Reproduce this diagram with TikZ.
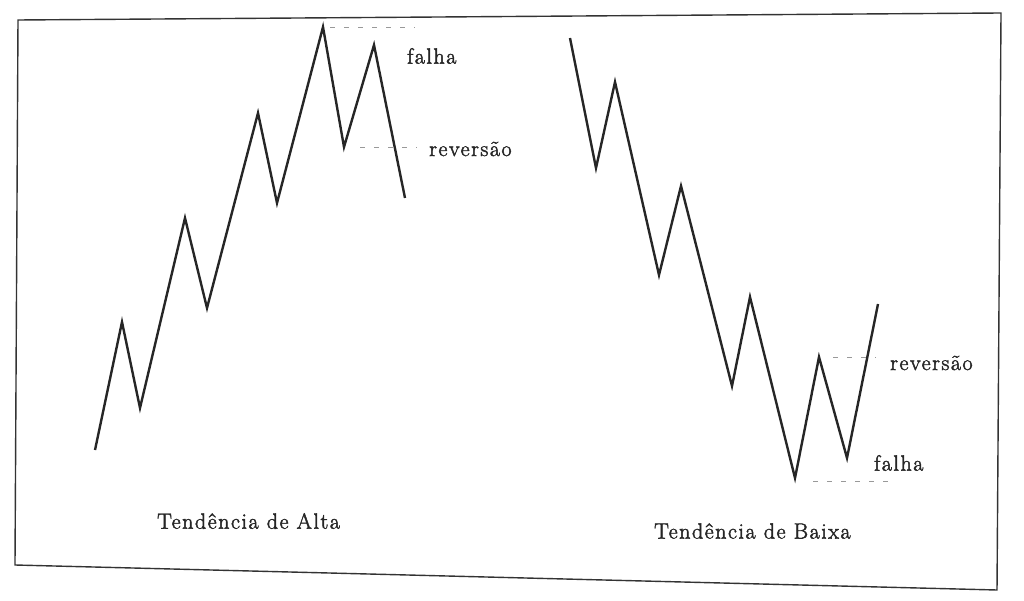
\documentclass[tikz,border=0pt]{standalone}
\usepackage{fontspec}
\setmainfont{Latin Modern Roman}
\newfontfamily\lblfont[FakeBold=2,LetterSpace=7]{Latin Modern Roman}
\begin{document}
\begin{tikzpicture}[x=1pt,y=-1pt,
  trend/.style={line width=2.4pt,draw=black!85,line join=miter},
  guide/.style={line width=0.8pt,draw=black!40,dash pattern=on 5pt off 9pt},
  frameline/.style={line width=1.4pt,draw=black!80},
  lbl/.style={font=\lblfont\fontsize{22}{25}\selectfont,text=black!85,inner sep=0pt}]
\useasboundingbox (0,0) rectangle (1024,601);
% frame (slightly skewed like the scan)
\coordinate (f1) at (18,20);
\coordinate (f2) at (1001,13);
\coordinate (f3) at (997,590);
\coordinate (f4) at (15,565);
\draw[frameline] (f1) -- (f2) -- (f3) -- (f4) -- cycle;
% left chart: uptrend
\coordinate (a0) at (95,450);
\coordinate (a1) at (122,322);
\coordinate (a2) at (140,408);
\coordinate (a3) at (185,218);
\coordinate (a4) at (207,308);
\coordinate (a5) at (258,113);
\coordinate (a6) at (277,203);
\coordinate (a7) at (323,27);
\coordinate (a8) at (344,147);
\coordinate (a9) at (374,45);
\coordinate (a10) at (405,198);
\draw[trend] (a0)--(a1)--(a2)--(a3)--(a4)--(a5)--(a6)--(a7)--(a8)--(a9)--(a10);
\coordinate (ga0) at (330,27);
\coordinate (ga) at (415,27);
\coordinate (gb0) at (360,147);
\coordinate (gb) at (417,147);
\draw[guide] (ga0) -- (ga);
\draw[guide] (gb0) -- (gb);
\node[lbl,anchor=west] (falhaA) at (407,56) {falha};
\node[lbl,anchor=west] (revA) at (429,149) {reversão};
\node[lbl,anchor=west] (altaT) at (157,521) {Tendência de Alta};
% right chart: downtrend
\coordinate (b0) at (570,38);
\coordinate (b1) at (596,168);
\coordinate (b2) at (615,82);
\coordinate (b3) at (659,275);
\coordinate (b4) at (681,186);
\coordinate (b5) at (732,386);
\coordinate (b6) at (750,297);
\coordinate (b7) at (795,478);
\coordinate (b8) at (819,357);
\coordinate (b9) at (847,458);
\coordinate (b10) at (878,304);
\draw[trend] (b0)--(b1)--(b2)--(b3)--(b4)--(b5)--(b6)--(b7)--(b8)--(b9)--(b10);
\coordinate (gc0) at (833,357);
\coordinate (gc) at (876,357);
\coordinate (gd0) at (813,481);
\coordinate (gd) at (888,481);
\draw[guide] (gc0) -- (gc);
\draw[guide] (gd0) -- (gd);
\node[lbl,anchor=west] (revB) at (890,363) {reversão};
\node[lbl,anchor=west] (falhaB) at (874,463) {falha};
\node[lbl,anchor=west] (baixaT) at (654,531) {Tendência de Baixa};
\end{tikzpicture}
\end{document}
